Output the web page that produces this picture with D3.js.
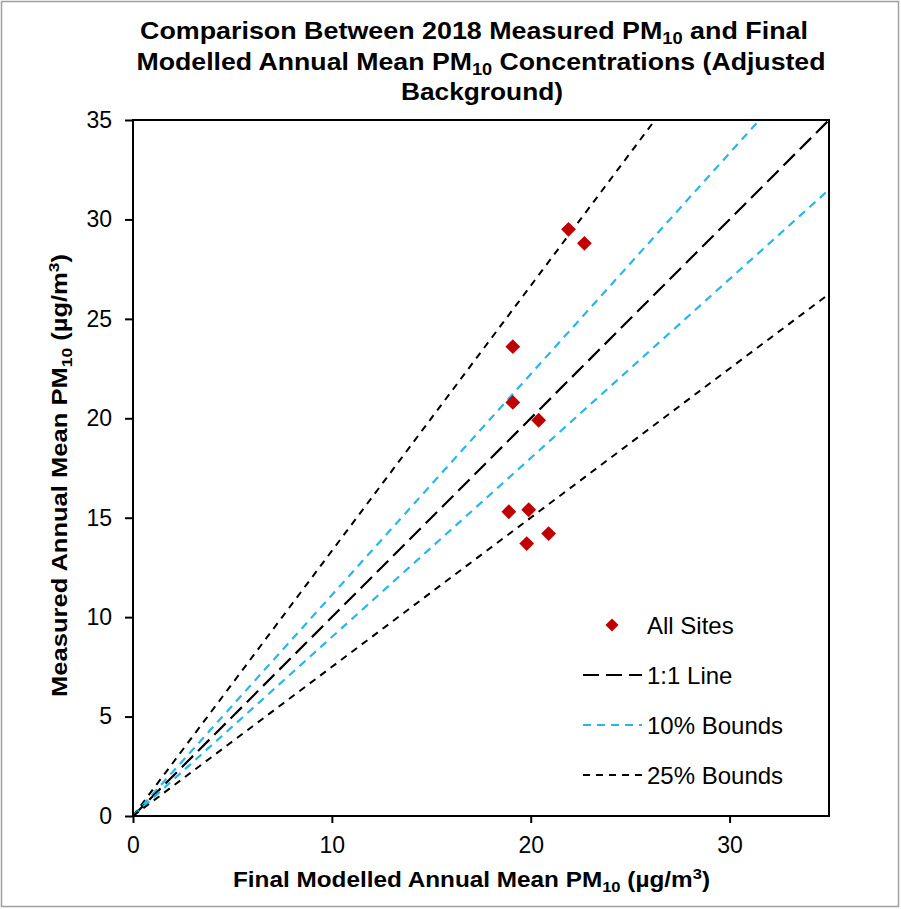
<!DOCTYPE html>
<html>
<head>
<meta charset="utf-8">
<script src="https://cdn.jsdelivr.net/npm/d3@7"></script>
<style>
  html, body { margin: 0; padding: 0; background: #fff; }
  svg { display: block; }
  text { font-family: Arial, "Liberation Sans", sans-serif; fill: #000; }
</style>
</head>
<body>
<div id="chart"></div>
<script>
// Site results: final modelled (x) vs measured (y) annual mean PM10, µg/m³
const modelled = [21.9, 22.7, 19.1, 19.1, 20.4, 18.9, 19.9, 19.8, 20.9];
const measured = [29.5, 28.8, 23.6, 20.8, 19.9, 15.3, 15.4, 13.7, 14.2];

// Reference lines: measured = modelled * factor
const refFactors = [1 / 0.75, 1 / 0.9, 1, 0.9, 0.75];
const refKinds   = ["b25", "b10", "one", "b10", "b25"];

const xTicks = [0, 10, 20, 30];
const yTicks = [0, 5, 10, 15, 20, 25, 30, 35];

const legendItems = ["All Sites", "1:1 Line", "10% Bounds", "25% Bounds"];
const legendKinds = ["pt", "one", "b10", "b25"];

const W = 901, H = 909;
const m = { left: 133, top: 120, right: 829, bottom: 816 };

const styles = {
  one: { stroke: "#000000", width: 2.2, dash: "16,7" },
  b10: { stroke: "#29B6EA", width: 2.2, dash: "8,6" },
  b25: { stroke: "#000000", width: 2, dash: "7,6" }
};
const pointColor = "#C00000";

const svg = d3.select("#chart").append("svg")
  .attr("width", W).attr("height", H);

// outer frame
svg.append("rect")
  .attr("x", 1.5).attr("y", 1.5).attr("width", W - 4).attr("height", H - 4)
  .attr("fill", "#fff").attr("stroke", "#a0a0a0").attr("stroke-width", 1.5);

const x = d3.scaleLinear().domain([0, 35]).range([m.left, m.right]);
const y = d3.scaleLinear().domain([0, 35]).range([m.bottom, m.top]);

svg.append("clipPath").attr("id", "plotclip")
  .append("rect")
  .attr("x", m.left).attr("y", m.top)
  .attr("width", m.right - m.left).attr("height", m.bottom - m.top);

// reference lines
const lineG = svg.append("g").attr("clip-path", "url(#plotclip)");
refFactors.forEach((f, i) => {
  const s = styles[refKinds[i]];
  const xEnd = Math.min(35, 35 / f);
  lineG.append("line")
    .attr("x1", x(0)).attr("y1", y(0))
    .attr("x2", x(xEnd)).attr("y2", y(xEnd * f))
    .attr("stroke", s.stroke)
    .attr("stroke-width", s.width)
    .attr("stroke-dasharray", s.dash);
});

// plot frame
svg.append("rect")
  .attr("x", m.left).attr("y", m.top)
  .attr("width", m.right - m.left).attr("height", m.bottom - m.top)
  .attr("fill", "none").attr("stroke", "#000").attr("stroke-width", 2);

// axes
const xAxis = svg.append("g")
  .attr("transform", `translate(0,${m.bottom})`)
  .call(d3.axisBottom(x).tickValues(xTicks).tickSize(7).tickPadding(14));
const yAxis = svg.append("g")
  .attr("transform", `translate(${m.left},0)`)
  .call(d3.axisLeft(y).tickValues(yTicks).tickSize(8).tickPadding(13));
[xAxis, yAxis].forEach(g => {
  g.select(".domain").remove();
  g.selectAll(".tick line").attr("stroke", "#000").attr("stroke-width", 2);
  g.selectAll(".tick text")
    .attr("font-size", 23)
    .attr("font-family", "Arial, 'Liberation Sans', sans-serif")
    .attr("fill", "#000");
});

// points
const diamond = d3.symbol().type(d3.symbolDiamond2).size(140);
svg.append("g").selectAll("path")
  .data(modelled.map((v, i) => [v, measured[i]]))
  .join("path")
  .attr("transform", d => `translate(${x(d[0])},${y(d[1])})`)
  .attr("d", diamond)
  .attr("fill", pointColor);

// helper: text line with subscript / superscript parts
function richText(sel, parts, small) {
  parts.forEach(p => {
    const t = sel.append("tspan").text(p.t);
    if (p.sub) t.attr("font-size", small).attr("dy", 5);
    else if (p.sup) t.attr("font-size", small).attr("dy", -8);
    if (p.back) t.attr("dy", p.back);
  });
}

// title
const titleLines = [
  { y: 39, cx: 474, len: 668, parts: [
    { t: "Comparison Between 2018 Measured PM" }, { t: "10", sub: true },
    { t: " and Final", back: -5 } ] },
  { y: 70, cx: 481, len: 689, parts: [
    { t: "Modelled Annual Mean PM" }, { t: "10", sub: true },
    { t: " Concentrations (Adjusted", back: -5 } ] },
  { y: 100, cx: 482, len: 162, parts: [ { t: "Background)" } ] }
];
titleLines.forEach(l => {
  const t = svg.append("text")
    .attr("x", l.cx - l.len / 2).attr("y", l.y)
    .attr("font-size", 23.5).attr("font-weight", "bold")
    .attr("textLength", l.len).attr("lengthAdjust", "spacingAndGlyphs");
  richText(t, l.parts, 16);
});

// x axis title
const xt = svg.append("text")
  .attr("x", 233).attr("y", 887)
  .attr("font-size", 22).attr("font-weight", "bold")
  .attr("textLength", 477).attr("lengthAdjust", "spacingAndGlyphs");
richText(xt, [
  { t: "Final Modelled Annual Mean PM" }, { t: "10", sub: true },
  { t: " (µg/m", back: -5 }, { t: "3", sup: true }, { t: ")", back: 8 }
], 15);

// y axis title
const yt = svg.append("text")
  .attr("transform", `translate(67,697) rotate(-90)`)
  .attr("x", 0).attr("y", 0)
  .attr("font-size", 22).attr("font-weight", "bold")
  .attr("textLength", 443).attr("lengthAdjust", "spacingAndGlyphs");
richText(yt, [
  { t: "Measured Annual Mean PM" }, { t: "10", sub: true },
  { t: " (µg/m", back: -5 }, { t: "3", sup: true }, { t: ")", back: 8 }
], 15);

// legend
const lg = svg.append("g");
legendItems.forEach((name, i) => {
  const cy = 625 + i * 50;
  const kind = legendKinds[i];
  if (kind === "pt") {
    lg.append("path")
      .attr("transform", `translate(612,${cy})`)
      .attr("d", d3.symbol().type(d3.symbolDiamond2).size(110))
      .attr("fill", pointColor);
  } else {
    const s = styles[kind];
    lg.append("line")
      .attr("x1", 583).attr("x2", 642).attr("y1", cy).attr("y2", cy)
      .attr("stroke", s.stroke).attr("stroke-width", s.width)
      .attr("stroke-dasharray", s.dash);
  }
  lg.append("text")
    .attr("x", 647).attr("y", cy + 8.5)
    .attr("font-size", 24)
    .text(name);
});
</script>
</body>
</html>
